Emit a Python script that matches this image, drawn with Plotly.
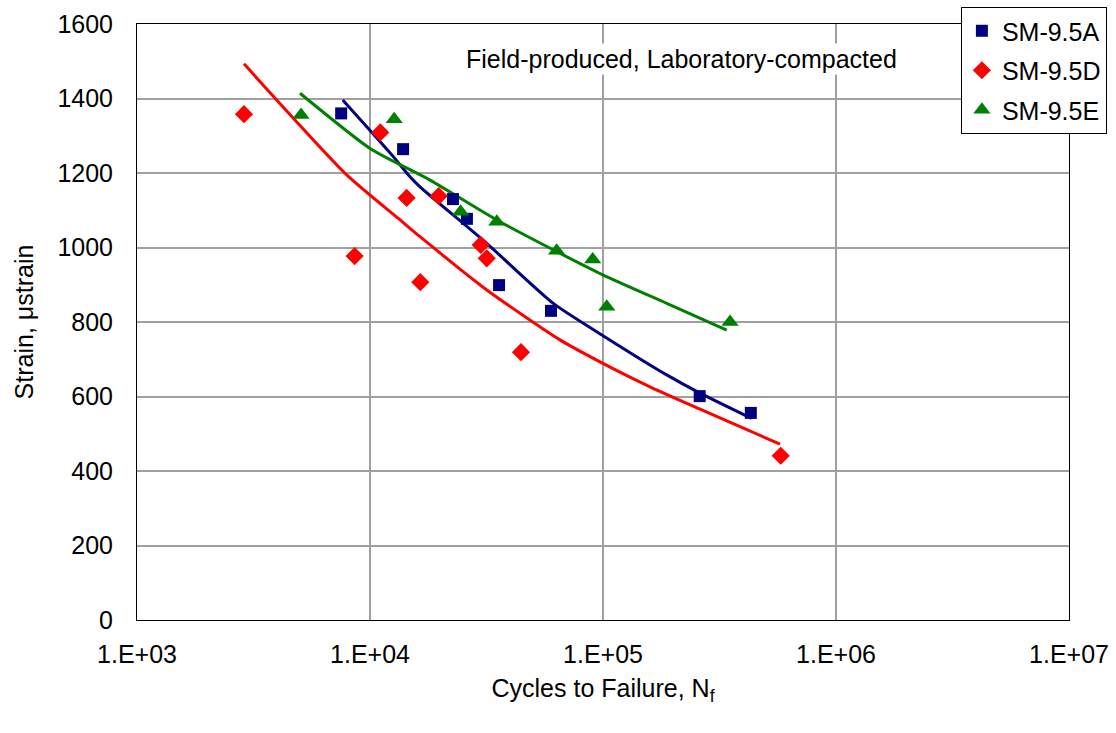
import plotly.graph_objects as go

# --- measured data ---
a_cycles = [7520, 13870, 22700, 26060, 35800, 59800, 260000, 431000]
a_strain = [1360, 1264, 1130, 1077, 899, 830, 601, 556]

d_cycles = [2878, 11070, 8590, 14360, 19730, 16440, 29860, 31700, 44460, 579000]
d_strain = [1358, 1309, 977, 1133, 1138, 907, 1007, 971, 719, 441]

e_cycles = [5060, 12700, 24490, 35000, 63200, 90300, 103800, 351000]
e_strain = [1356, 1344, 1096, 1069, 991, 968, 841, 800]

# trend lines
a_fit_cycles = [7635, 12590, 14850, 16390, 31700, 61200, 102000, 187700, 260800, 434600]
a_fit_strain = [1396, 1244, 1190, 1163, 1011, 850, 760, 658, 609, 541]

d_fit_cycles = [2879, 7943, 13230, 16390, 31700, 65390, 97080, 159100, 260800, 575000]
d_fit_strain = [1493, 1195, 1078, 1029, 886, 752, 693, 626, 566, 472]

e_fit_cycles = [5007, 10000, 18090, 34990, 63280, 100300, 187700, 339600]
e_fit_strain = [1414, 1266, 1181, 1074, 989, 926, 850, 778]

x_tickvals = [1e3, 1e4, 1e5, 1e6, 1e7]
x_ticktext = ["1.E+03", "1.E+04", "1.E+05", "1.E+06", "1.E+07"]
y_tickvals = [0, 200, 400, 600, 800, 1000, 1200, 1400, 1600]

NAVY = "#000080"
RED = "#ff0000"
GREEN = "#008000"

fig = go.Figure()

for xs, ys, col in [(a_fit_cycles, a_fit_strain, NAVY),
                    (d_fit_cycles, d_fit_strain, RED),
                    (e_fit_cycles, e_fit_strain, GREEN)]:
    fig.add_trace(go.Scatter(x=xs, y=ys, mode="lines",
                             line=dict(color=col, width=3, shape="spline", smoothing=0.6),
                             showlegend=False, hoverinfo="skip"))

fig.add_trace(go.Scatter(x=a_cycles, y=a_strain, mode="markers", name="SM-9.5A",
                         legendgroup="a",
                         marker=dict(symbol="square", size=12, color=NAVY)))
fig.add_trace(go.Scatter(x=d_cycles, y=d_strain, mode="markers", name="SM-9.5D",
                         legendgroup="d",
                         marker=dict(symbol="diamond", size=14, color=RED)))
fig.add_trace(go.Scatter(x=e_cycles, y=e_strain, mode="markers", name="SM-9.5E",
                         legendgroup="e",
                         marker=dict(symbol="triangle-up", size=15, color=GREEN)))

font_family = "Liberation Sans, Arial, sans-serif"
FS = 25

fig.update_layout(
    width=1116, height=733,
    margin=dict(l=137, r=47, t=24, b=113, autoexpand=False),
    paper_bgcolor="white", plot_bgcolor="white",
    font=dict(family=font_family, size=FS, color="black"),
    showlegend=True,
    legend=dict(x=0.884, y=1.0285, xanchor="left", yanchor="top",
                bgcolor="white", bordercolor="black", borderwidth=1,
                font=dict(size=FS), traceorder="grouped", tracegroupgap=4,
                itemwidth=30),
    xaxis=dict(type="log", range=[3, 7], tickvals=x_tickvals, ticktext=x_ticktext,
               showgrid=True, gridcolor="#a0a0a0", gridwidth=2,
               showline=True, linecolor="black", linewidth=1, mirror=True,
               ticks="", ticklabelstandoff=12, zeroline=False,
               title=dict(text="Cycles to Failure, N<sub>f</sub>", standoff=12,
                          font=dict(size=FS))),
    yaxis=dict(range=[0, 1600], tickvals=y_tickvals,
               showgrid=True, gridcolor="#a0a0a0", gridwidth=2,
               showline=True, linecolor="black", linewidth=1, mirror=True,
               ticks="", ticklabelstandoff=18, zeroline=False,
               title=dict(text="Strain, \u03bcstrain", standoff=16,
                          font=dict(size=FS))),
    annotations=[dict(text="Field-produced, Laboratory-compacted",
                      x=0.5837, y=0.941, xref="paper", yref="paper",
                      xanchor="center", yanchor="middle",
                      showarrow=False, font=dict(size=FS),
                      bgcolor="white")],
)

fig.write_html("out.html")
